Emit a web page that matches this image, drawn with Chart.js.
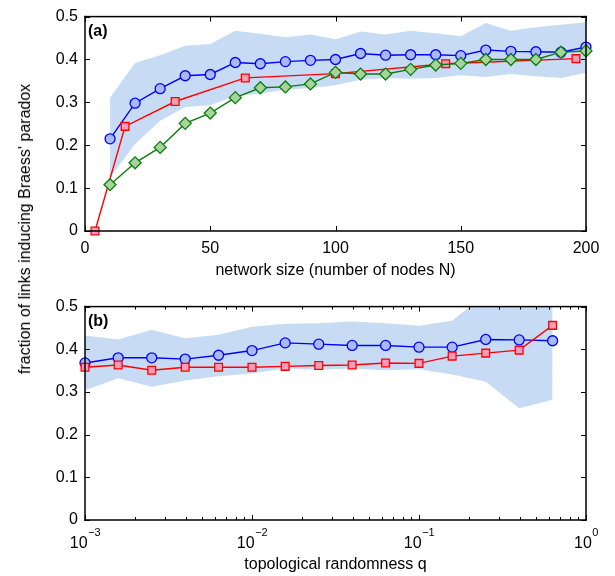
<!DOCTYPE html>
<html>
<head>
<meta charset="utf-8">
<script src="https://cdn.jsdelivr.net/npm/chart.js@4.4.0/dist/chart.umd.min.js"></script>
<style>
  body { margin: 0; background: #fff; }
  #wrap { position: relative; width: 615px; height: 576px; }
  #chartA { position: absolute; left: 0; top: 0; }
  #chartB { position: absolute; left: 0; top: 290px; }
  #ylab {
    position: absolute; left: 25px; top: 229px;
    transform: translate(-50%, -50%) rotate(-90deg);
    white-space: nowrap; color: #000;
    font: 16px 'Liberation Sans', Arial, sans-serif;
  }
</style>
</head>
<body>
<div id="wrap">
  <canvas id="chartA" width="615" height="290"></canvas>
  <canvas id="chartB" width="615" height="286"></canvas>
  <div id="ylab">fraction of links inducing Braess' paradox</div>
</div>
<script>
// (a) fraction vs network size
const nodesN = [10, 20, 30, 40, 50, 60, 70, 80, 90, 100, 110, 120, 130, 140, 150, 160, 170, 180, 190, 200];
const fracCircleA = [0.215, 0.298, 0.332, 0.362, 0.365, 0.393, 0.390, 0.395, 0.398, 0.400, 0.414, 0.410, 0.411, 0.411, 0.409, 0.422, 0.419, 0.418, 0.417, 0.429];
const fracDiamondA = [0.108, 0.159, 0.195, 0.251, 0.275, 0.311, 0.334, 0.336, 0.343, 0.370, 0.366, 0.366, 0.377, 0.387, 0.391, 0.400, 0.400, 0.400, 0.417, 0.420];
const bandHighA = [0.311, 0.392, 0.410, 0.432, 0.436, 0.467, 0.460, 0.452, 0.458, 0.447, 0.465, 0.458, 0.467, 0.461, 0.454, 0.485, 0.467, 0.475, 0.481, 0.487];
const bandLowA = [0.125, 0.203, 0.257, 0.289, 0.293, 0.315, 0.320, 0.330, 0.333, 0.340, 0.353, 0.357, 0.355, 0.357, 0.363, 0.359, 0.366, 0.361, 0.357, 0.369];
const latticeN = [4, 16, 36, 64, 100, 144, 196];
const fracSquareA = [0, 0.244, 0.302, 0.357, 0.367, 0.390, 0.402];

// (b) fraction vs topological randomness
const randomQ = [0.001, 0.00158, 0.00251, 0.00398, 0.00631, 0.01, 0.0158, 0.0251, 0.0398, 0.0631, 0.1, 0.158, 0.251, 0.398, 0.631];
const fracCircleB = [0.368, 0.380, 0.380, 0.377, 0.386, 0.397, 0.415, 0.412, 0.409, 0.409, 0.405, 0.405, 0.423, 0.422, 0.420];
const fracSquareB = [0.358, 0.363, 0.351, 0.358, 0.358, 0.358, 0.360, 0.362, 0.363, 0.368, 0.367, 0.384, 0.391, 0.398, 0.456];
const bandHighB = [0.432, 0.423, 0.446, 0.426, 0.434, 0.453, 0.460, 0.461, 0.465, 0.461, 0.455, 0.467, 0.530, 0.560, 0.560];
const bandLowB = [0.304, 0.332, 0.312, 0.327, 0.337, 0.343, 0.355, 0.352, 0.355, 0.351, 0.353, 0.341, 0.324, 0.262, 0.282];

const qTicks = [0.001, 0.01, 0.1, 1];
const qExponents = ['−3', '−2', '−1', '0'];

const FONT = "'Liberation Sans', Arial, sans-serif";
const BAND = 'rgb(199, 220, 244)';

function pts(xs, ys) {
  return xs.map((x, i) => ({ x: x, y: ys[i] }));
}

// shaded range: upper edge filled down to the lower edge
function band(xs, lo, hi) {
  return [
    { data: pts(xs, hi), borderWidth: 0, pointRadius: 0, fill: '+1', backgroundColor: BAND, order: 10 },
    { data: pts(xs, lo), borderWidth: 0, pointRadius: 0, fill: false, order: 10 }
  ];
}

function series(xs, ys, color, face, style, r, order) {
  return {
    data: pts(xs, ys),
    borderColor: color,
    borderWidth: 1.4,
    pointStyle: style,
    pointRadius: r,
    pointBackgroundColor: face,
    pointBorderColor: color,
    pointBorderWidth: 1.3,
    fill: false,
    tension: 0,
    clip: false,
    order: order
  };
}

// box with inward ticks on all four sides, panel tag, and 10^n labels for log axes
const frameTicks = {
  id: 'frameTicks',
  afterDraw(chart, args, opts) {
    const { ctx, chartArea: a, scales } = chart;
    const xs = scales.x, ys = scales.y;
    ctx.save();
    ctx.fillStyle = '#000';
    const vTick = (v, len) => {
      const px = Math.round(xs.getPixelForValue(v));
      ctx.fillRect(px, a.bottom - len, 1, len);
      ctx.fillRect(px, a.top, 1, len);
    };
    const tickVals = opts.majors || xs.ticks.map(t => t.value);
    tickVals.forEach(v => vTick(v, 5));
    (opts.minor || []).forEach(v => vTick(v, 3));
    ys.ticks.forEach(t => {
      const py = Math.round(ys.getPixelForValue(t.value));
      ctx.fillRect(a.left, py, 5, 1);
      ctx.fillRect(a.right - 5, py, 5, 1);
    });
    // frame
    const w = 1.5;
    ctx.fillRect(a.left - w / 2, a.top - w / 2, a.right - a.left + w, w);
    ctx.fillRect(a.left - w / 2, a.bottom - w / 2, a.right - a.left + w, w);
    ctx.fillRect(a.left - w / 2, a.top - w / 2, w, a.bottom - a.top + w);
    ctx.fillRect(a.right - w / 2, a.top - w / 2, w, a.bottom - a.top + w);

    if (opts.tag) {
      ctx.font = 'bold 16px ' + FONT;
      ctx.textBaseline = 'alphabetic';
      ctx.textAlign = 'left';
      ctx.fillText(opts.tag, a.left + 3, a.top + 19);
    }
    if (opts.majors && opts.exps) {
      ctx.textBaseline = 'alphabetic';
      ctx.textAlign = 'left';
      opts.majors.forEach((v, i) => {
        const px = xs.getPixelForValue(v);
        ctx.font = '16px ' + FONT;
        const wb = ctx.measureText('10').width;
        ctx.font = '11px ' + FONT;
        const we = ctx.measureText(opts.exps[i]).width;
        const x0 = px - (wb + we) / 2;
        ctx.font = '16px ' + FONT;
        ctx.fillText('10', x0, a.bottom + 28);
        ctx.font = '11px ' + FONT;
        ctx.fillText(opts.exps[i], x0 + wb + 0.5, a.bottom + 16);
      });
    }
    ctx.restore();
  }
};

function yScale() {
  return {
    min: 0, max: 0.5,
    grid: { display: false, drawTicks: false, tickLength: 0 },
    border: { display: false },
    ticks: { stepSize: 0.1, padding: 7, color: '#000', font: { family: FONT, size: 16 } },
    afterFit(s) { s.width = 85; }
  };
}

function baseOptions() {
  return {
    responsive: false,
    devicePixelRatio: 1,
    animation: false,
    layout: { padding: { top: 15, right: 29, left: 0, bottom: 0 } },
    plugins: { legend: { display: false }, tooltip: { enabled: false } }
  };
}

const minorQ = [];
[0.001, 0.01, 0.1].forEach(d => { for (let m = 2; m <= 9; m++) minorQ.push(m * d); });

const optA = baseOptions();
optA.plugins.frameTicks = { tag: '(a)' };
optA.scales = {
  x: {
    type: 'linear', min: 0, max: 200,
    grid: { display: false, drawTicks: false, tickLength: 0 },
    border: { display: false },
    ticks: { stepSize: 50, padding: 8, color: '#000', font: { family: FONT, size: 16 }, maxRotation: 0 },
    title: { display: true, text: 'network size (number of nodes N)', color: '#000', font: { family: FONT, size: 16 }, padding: { top: 0, bottom: 10 } },
    afterFit(s) { s.height = 59; }
  },
  y: yScale()
};

new Chart(document.getElementById('chartA'), {
  type: 'line',
  data: {
    datasets: [
      ...band(nodesN, bandLowA, bandHighA),
      series(nodesN, fracCircleA, '#0000ff', '#a9b9f6', 'circle', 5, 3),
      series(latticeN, fracSquareA, '#ff0000', '#f79cb8', 'rect', 5.5, 2),
      series(nodesN, fracDiamondA, '#0a7d0a', '#a6d49c', 'rectRot', 6, 1)
    ]
  },
  options: optA,
  plugins: [frameTicks]
});

const optB = baseOptions();
optB.plugins.frameTicks = { tag: '(b)', minor: minorQ, majors: qTicks, exps: qExponents };
optB.scales = {
  x: {
    type: 'logarithmic', min: 0.001, max: 1,
    grid: { display: false, drawTicks: false, tickLength: 0 },
    border: { display: false },
    afterBuildTicks(s) { s.ticks = qTicks.map(v => ({ value: v })); },
    // 10^n labels are set by the frameTicks plugin
    ticks: { display: false },
    title: { display: true, text: 'topological randomness q', color: '#000', font: { family: FONT, size: 16 }, padding: { top: 0, bottom: 2 } },
    afterFit(s) { s.height = 56; }
  },
  y: yScale()
};

new Chart(document.getElementById('chartB'), {
  type: 'line',
  data: {
    datasets: [
      ...band(randomQ, bandLowB, bandHighB),
      series(randomQ, fracCircleB, '#0000ff', '#a9b9f6', 'circle', 5, 2),
      series(randomQ, fracSquareB, '#ff0000', '#f79cb8', 'rect', 5.5, 1)
    ]
  },
  options: optB,
  plugins: [frameTicks]
});
</script>
</body>
</html>
